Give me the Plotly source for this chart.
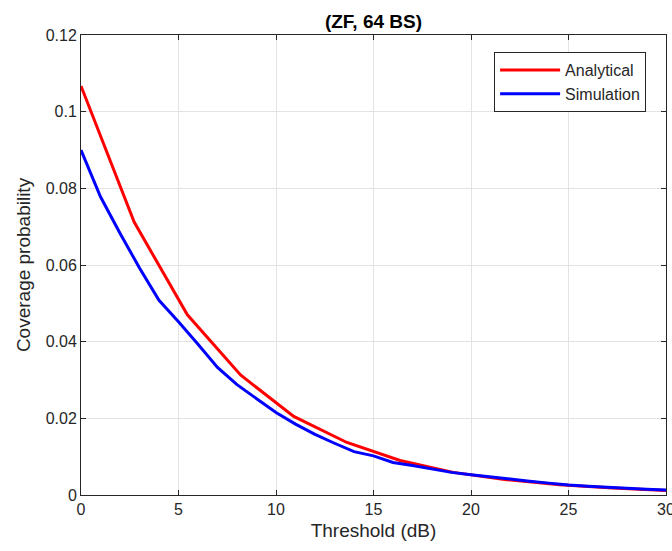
import plotly.graph_objects as go

# Analytical curve (12 points, 0..30 dB)
x_analytical = [0, 2.727, 5.455, 8.182, 10.909, 13.636, 16.364, 19.091, 21.818, 24.545, 27.273, 30]
y_analytical = [0.1067, 0.0712, 0.0470, 0.0313, 0.0205, 0.0137, 0.0090, 0.0059, 0.0040, 0.0027, 0.0018, 0.0012]

# Simulation curve (1 dB steps)
x_simulation = list(range(0, 31))
y_simulation = [0.0900, 0.0778, 0.0683, 0.0592, 0.0508, 0.0452, 0.0393, 0.0333, 0.0288, 0.0252,
                0.0215, 0.0185, 0.0158, 0.0135, 0.0113, 0.0102, 0.0085, 0.0077, 0.0068, 0.0059,
                0.0053, 0.0047, 0.0041, 0.0036, 0.0031, 0.0026, 0.0023, 0.0020, 0.0017, 0.0015, 0.0013]

font_family = "Liberation Sans, Arial, Helvetica, sans-serif"
axis_color = "#262626"

fig = go.Figure()
fig.add_trace(go.Scatter(x=x_analytical, y=y_analytical, mode="lines", name="Analytical",
                         line=dict(color="#ff0000", width=3)))
fig.add_trace(go.Scatter(x=x_simulation, y=y_simulation, mode="lines", name="Simulation",
                         line=dict(color="#0000ff", width=3)))

axis_common = dict(showline=True, linecolor=axis_color, linewidth=1, mirror="ticks",
                   ticks="inside", ticklen=5, tickcolor=axis_color, automargin=False,
                   showgrid=True, gridcolor="#e3e3e3", gridwidth=1, zeroline=False,
                   tickfont=dict(family=font_family, size=16, color=axis_color))

fig.update_xaxes(range=[0, 30], dtick=5, tick0=0, ticklabeloverflow="allow",
                 title=dict(text="Threshold (dB)", font=dict(family=font_family, size=19, color=axis_color), standoff=6),
                 **axis_common)
fig.update_yaxes(range=[0, 0.12], dtick=0.02, tick0=0,
                 title=dict(text="Coverage probability", font=dict(family=font_family, size=19, color=axis_color), standoff=10),
                 **axis_common)

fig.update_layout(
    width=672, height=551,
    margin=dict(l=81, r=6, t=35, b=56),
    paper_bgcolor="white", plot_bgcolor="white",
    title=dict(text="<b>(ZF, 64 BS)</b>", x=(81 + 666) / 2 / 672, xanchor="center",
               y=1 - 21 / 551, yanchor="middle",
               font=dict(family=font_family, size=19, color="black")),
    legend=dict(x=0.966, y=0.963, xanchor="right", yanchor="top",
                bgcolor="white", bordercolor=axis_color, borderwidth=1,
                font=dict(family=font_family, size=16, color=axis_color),
                tracegroupgap=0, itemwidth=60),
    showlegend=True,
)

fig.write_html("out.html")
